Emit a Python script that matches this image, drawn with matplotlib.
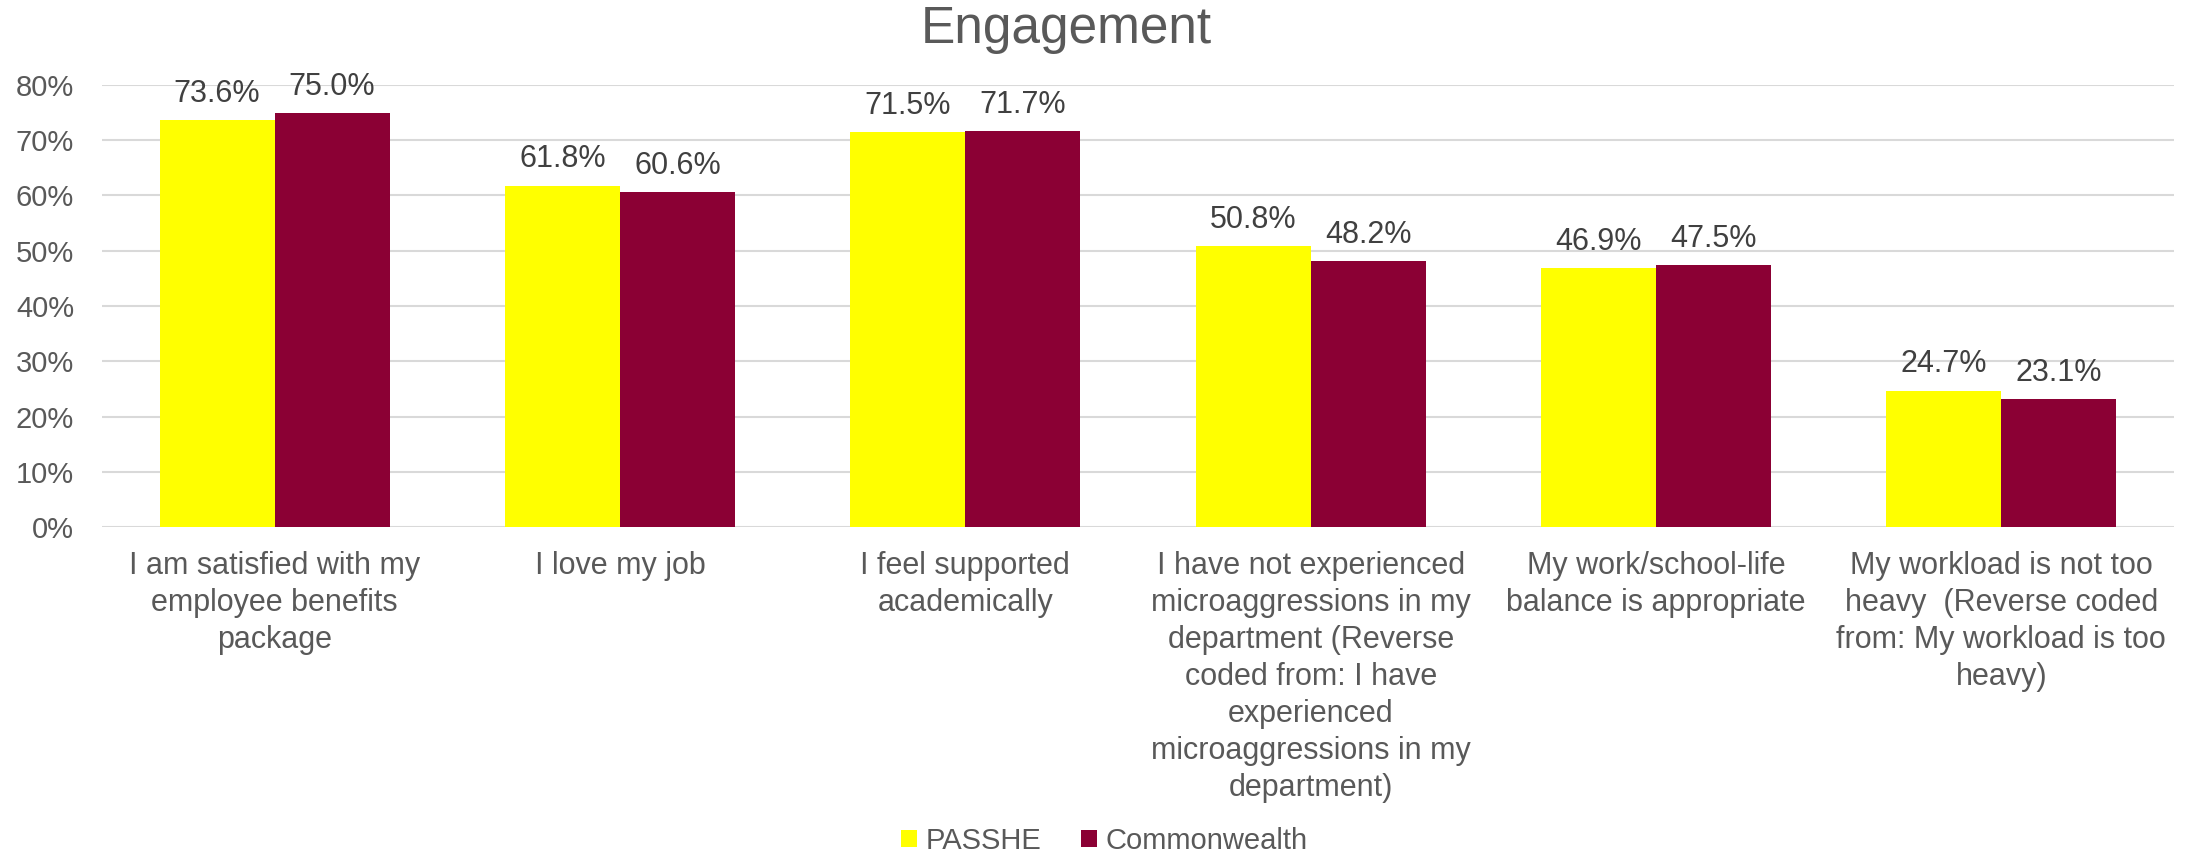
import numpy as np
import matplotlib
matplotlib.use("Agg")
import matplotlib.pyplot as plt
from matplotlib.ticker import PercentFormatter

plt.rcParams['font.family'] = ['Liberation Sans', 'DejaVu Sans']

categories = [
    "I am satisfied with my\nemployee benefits\npackage",
    "I love my job",
    "I feel supported\nacademically",
    "I have not experienced\nmicroaggressions in my\ndepartment (Reverse\ncoded from: I have\nexperienced\nmicroaggressions in my\ndepartment)",
    "My work/school-life\nbalance is appropriate",
    "My workload is not too\nheavy  (Reverse coded\nfrom: My workload is too\nheavy)",
]
passhe = [0.736, 0.618, 0.715, 0.508, 0.469, 0.247]
commonwealth = [0.750, 0.606, 0.717, 0.482, 0.475, 0.231]
series_names = ["PASSHE", "Commonwealth"]
yticks = [0, 0.1, 0.2, 0.3, 0.4, 0.5, 0.6, 0.7, 0.8]

yellow = "#FFFF00"
maroon = "#8B0034"
grey_text = "#595959"
label_text = "#404040"

fig = plt.figure(figsize=(21.93, 8.57), dpi=100)
ax = fig.add_axes([102 / 2193, 1 - 527 / 857, (2174 - 102) / 2193, (527 - 85) / 857])

x = np.arange(len(categories))
w = 0.333
b1 = ax.bar(x - w / 2, passhe, w, color=yellow, label=series_names[0], zorder=3)
b2 = ax.bar(x + w / 2, commonwealth, w, color=maroon, label=series_names[1], zorder=3)

# value labels sit just above each bar
for bars, vals in ((b1, passhe), (b2, commonwealth)):
    for rect, v in zip(bars, vals):
        ax.annotate(f"{v * 100:.1f}%", (rect.get_x() + rect.get_width() / 2, v),
                    xytext=(0, 13), textcoords="offset points",
                    ha="center", va="baseline", fontsize=22, color=label_text)

ax.set_xlim(-0.5, len(categories) - 0.5)
ax.set_ylim(0, 0.8)
ax.set_yticks(yticks)
ax.yaxis.set_major_formatter(PercentFormatter(1.0, decimals=0))
ax.set_xticks(x)
ax.set_xticklabels(categories, fontsize=22, color=grey_text, linespacing=1.31)
ax.tick_params(axis="x", length=0, pad=17)
ax.tick_params(axis="y", length=0, pad=20, labelsize=21, labelcolor=grey_text)
ax.grid(axis="y", color="#D9D9D9", linewidth=1.5, zorder=0)
ax.set_axisbelow(True)
for s in ax.spines.values():
    s.set_visible(False)

fig.text(1066 / 2193, 1 - 30 / 857, "Engagement", ha="center", va="center",
         fontsize=37, color=grey_text)

fig.legend(loc="center", bbox_to_anchor=(1104 / 2193, 1 - 841 / 857), ncol=2,
           frameon=False, fontsize=21, labelcolor=grey_text,
           handlelength=0.55, handleheight=0.55, handletextpad=0.3, columnspacing=1.35)

fig.savefig("out.png", dpi=100)
